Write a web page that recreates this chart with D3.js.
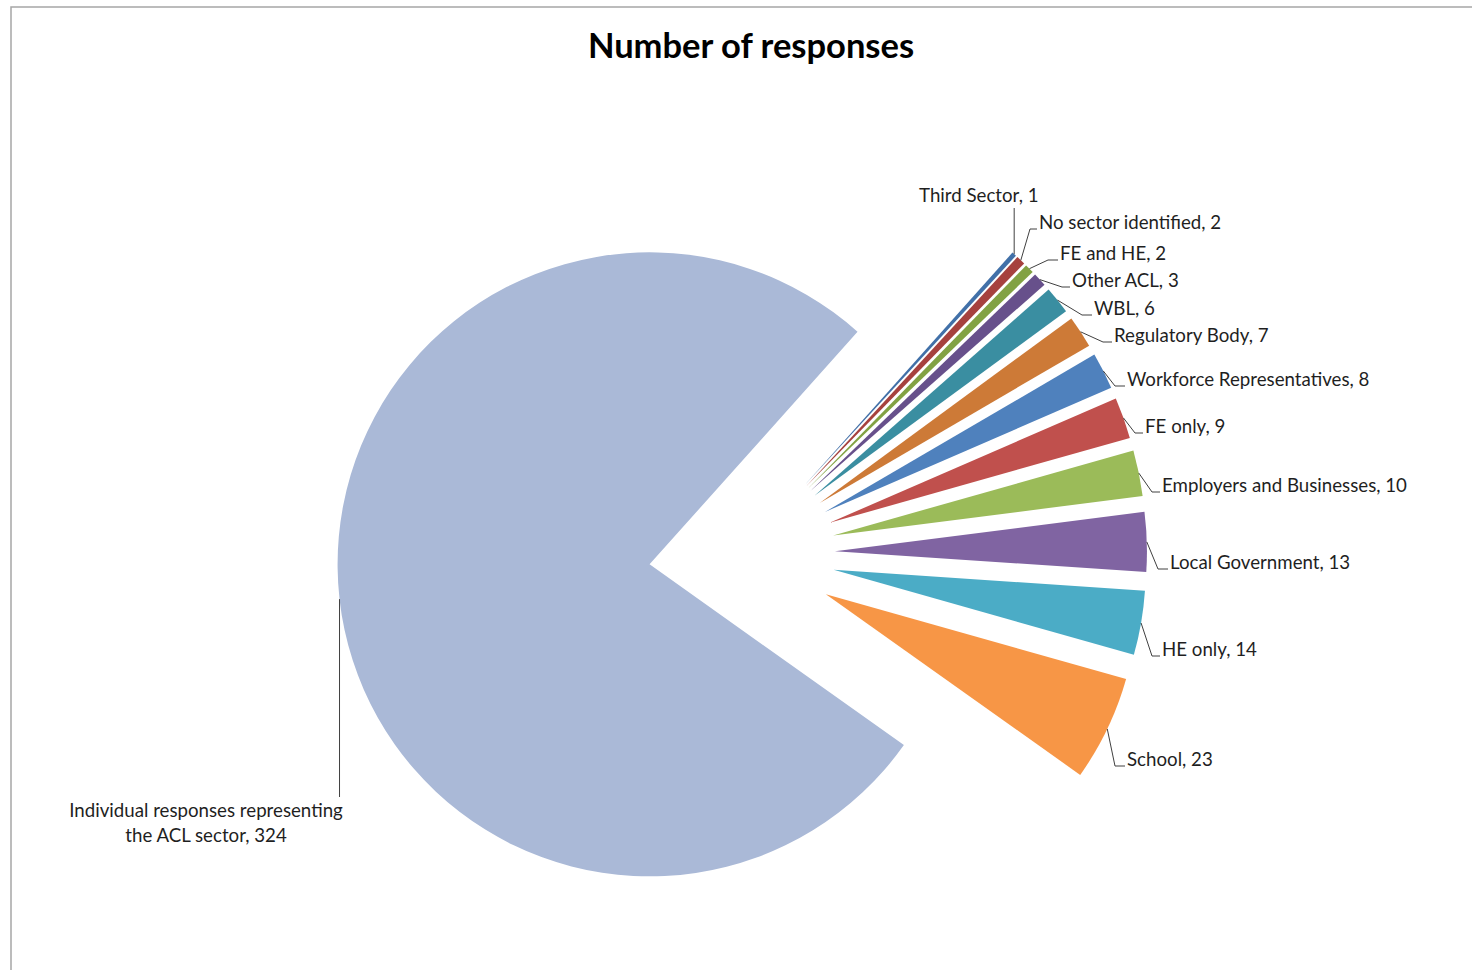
<!DOCTYPE html>
<html>
<head>
<meta charset="utf-8">
<script src="https://cdn.jsdelivr.net/npm/d3@7"></script>
<style>
  html, body { margin: 0; padding: 0; background: #fff; }
  svg { display: block; }
  text { font-family: Lato, "Open Sans", sans-serif; fill: #1f1f1f; }
</style>
</head>
<body>
<svg id="chart" width="1472" height="970"></svg>
<script>
// ---- data ----
const categories = [
  "Third Sector", "No sector identified", "FE and HE", "Other ACL", "WBL",
  "Regulatory Body", "Workforce Representatives", "FE only",
  "Employers and Businesses", "Local Government", "HE only", "School",
  "Individual responses representing the ACL sector"
];
const values = [1, 2, 2, 3, 6, 7, 8, 9, 10, 13, 14, 23, 324];
const colors = [
  "#4170a8", "#a6413e", "#82a243", "#67508b", "#3a8ea1", "#cd7a37",
  "#4f81bd", "#c0504d", "#9bbb59", "#8064a2", "#4bacc6", "#f79646",
  "#aab9d7"
];
const title = "Number of responses";

// ---- layout (label annotation positions: elbow x,y ; text x, baseline y) ----
const labelLayout = [
  { ex: null, ey: 208, tx: 919, ty: 202 },
  { ex: 1030, ey: 229, tx: 1039, ty: 229 },
  { ex: 1048, ey: 260, tx: 1060, ty: 260 },
  { ex: 1062, ey: 287, tx: 1072, ty: 287 },
  { ex: 1082, ey: 315, tx: 1094, ty: 315 },
  { ex: 1103, ey: 342, tx: 1114, ty: 342 },
  { ex: 1115, ey: 386, tx: 1127, ty: 386 },
  { ex: 1135, ey: 433, tx: 1145, ty: 433 },
  { ex: 1152, ey: 492, tx: 1162, ty: 492 },
  { ex: 1158, ey: 569, tx: 1170, ty: 569 },
  { ex: 1152, ey: 656, tx: 1162, ty: 656 },
  { ex: 1115, ey: 766, tx: 1127, ty: 766 },
  { ex: null, ey: 797, tx: 206, ty: 817, lines: ["Individual responses representing", "the ACL sector, 324"] }
];

const svg = d3.select("#chart");
const W = 1472, H = 970;

// chart border
svg.append("rect")
  .attr("x", 11).attr("y", 7).attr("width", W + 20).attr("height", H + 20)
  .attr("fill", "#fff").attr("stroke", "#a6a6a6").attr("stroke-width", 1.5);

// title
svg.append("text")
  .attr("x", 751).attr("y", 58)
  .attr("text-anchor", "middle")
  .style("font-weight", "bold").style("font-size", "34.5px").style("fill", "#000")
  .text(title);

const cx = 742, cy = 554, R = 312, explode = 93;
const a0 = 41.8 * Math.PI / 180;

const data = categories.map((c, i) => ({ name: c, value: values[i], color: colors[i], layout: labelLayout[i] }));

const pie = d3.pie().sort(null).value(d => d.value).startAngle(a0).endAngle(a0 + 2 * Math.PI);
const arc = d3.arc().innerRadius(0).outerRadius(R);
const arcs = pie(data);

const g = svg.append("g").attr("transform", `translate(${cx},${cy})`);

arcs.forEach(d => {
  const mid = (d.startAngle + d.endAngle) / 2;
  d.mid = mid;
  d.ox = explode * Math.sin(mid);
  d.oy = -explode * Math.cos(mid);
});

g.selectAll("path.slice")
  .data(arcs)
  .join("path")
  .attr("class", "slice")
  .attr("transform", d => `translate(${d.ox},${d.oy})`)
  .attr("d", arc)
  .attr("fill", d => d.data.color);

// leader lines and labels
const labels = svg.append("g");
const fs = "18.7px";
arcs.forEach(d => {
  const L = d.data.layout;
  const sx = cx + d.ox + R * Math.sin(d.mid);
  const sy = cy + d.oy - R * Math.cos(d.mid);
  let pts;
  if (L.ex === null) {
    pts = [[sx, sy], [sx, L.ey]];
  } else {
    pts = [[sx, sy], [L.ex, L.ey], [L.tx - 2, L.ey]];
  }
  labels.append("path")
    .attr("d", d3.line()(pts))
    .attr("fill", "none")
    .attr("stroke", "#404040")
    .attr("stroke-width", 1);

  if (L.lines) {
    const t = labels.append("text")
      .attr("text-anchor", "middle")
      .style("font-size", fs);
    L.lines.forEach((ln, i) => {
      t.append("tspan").attr("x", L.tx).attr("y", L.ty + i * 25).text(ln);
    });
  } else {
    labels.append("text")
      .attr("x", L.tx).attr("y", L.ty)
      .style("font-size", fs)
      .text(`${d.data.name}, ${d.data.value}`);
  }
});
</script>
</body>
</html>
